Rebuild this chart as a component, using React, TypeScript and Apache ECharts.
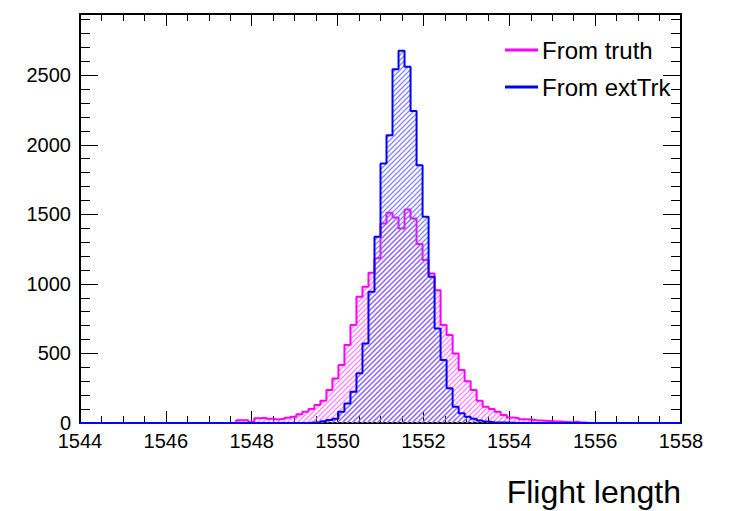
import React, { useEffect, useRef } from "react";
import * as echarts from "echarts";

const X_MIN = 1544;
const X_MAX = 1558;
const BIN_WIDTH = 0.14;

const truthCounts = [
  0, 0, 0, 0, 0, 0, 0, 0, 0, 0,
  0, 0, 0, 0, 0, 0, 0, 0, 0, 0,
  0, 0, 0, 0, 0, 0, 20, 20, 8, 35,
  38, 30, 25, 30, 38, 45, 62, 81, 100, 130,
  160, 237, 320, 417, 560, 704, 907, 979, 1080, 1185,
  1434, 1511, 1478, 1398, 1535, 1470, 1286, 1171, 1075, 955,
  704, 632, 500, 381, 300, 237, 160, 117, 100, 81,
  57, 40, 36, 27, 25, 20, 18, 15, 12, 10,
  8, 5, 10, 3, 0, 0, 0, 0, 0, 0,
  0, 0, 0, 0, 0, 0, 0, 0, 0, 0,
];

const extTrkCounts = [
  0, 0, 0, 0, 0, 0, 0, 0, 0, 0,
  0, 0, 0, 0, 0, 0, 0, 0, 0, 0,
  0, 0, 0, 0, 0, 0, 0, 0, 0, 0,
  0, 0, 0, 0, 0, 0, 0, 0, 3, 5,
  12, 22, 30, 81, 141, 225, 357, 572, 943, 1338,
  1866, 2069, 2543, 2675, 2560, 2243, 1853, 1482, 1051, 680,
  453, 249, 117, 70, 45, 30, 18, 10, 6, 4,
  3, 2, 0, 0, 0, 0, 0, 0, 0, 0,
  0, 0, 0, 0, 0, 0, 0, 0, 0, 0,
  0, 0, 0, 0, 0, 0, 0, 0, 0, 0,
];

const seriesNames = ["From truth", "From extTrk"];
const seriesColors = ["#ff00ff", "#0000ff"];
const hatchColors = ["#ff66ff", "#6666ff"];
const xTickValues = [1544, 1546, 1548, 1550, 1552, 1554, 1556, 1558];
const yTickValues = [0, 500, 1000, 1500, 2000, 2500];

function histPoints(counts: number[]) {
  const pts: number[][] = counts.map((v, i) => [X_MIN + BIN_WIDTH * i, v]);
  pts.push([X_MAX, counts[counts.length - 1]]);
  return pts;
}

function hatch(color: string) {
  const s = 5;
  const c = document.createElement("canvas");
  c.width = s;
  c.height = s;
  const ctx = c.getContext("2d")!;
  ctx.strokeStyle = color;
  ctx.lineWidth = 1.3;
  ctx.beginPath();
  ctx.moveTo(-1, s + 1);
  ctx.lineTo(s + 1, -1);
  ctx.moveTo(-1, 1);
  ctx.lineTo(1, -1);
  ctx.moveTo(s - 1, s + 1);
  ctx.lineTo(s + 1, s - 1);
  ctx.stroke();
  return c;
}

export default function App() {
  const ref = useRef<HTMLDivElement>(null);
  useEffect(() => {
    if (!ref.current) return;
    const chart = echarts.init(ref.current, null, { renderer: "svg" });
    const font = "Liberation Sans";
    const axisCommon = {
      axisLine: { show: true, onZero: false, lineStyle: { color: "#000", width: 2 } },
      splitLine: { show: false },
    };
    chart.setOption({
      animation: false,
      backgroundColor: "#fff",
      grid: { left: 80, right: 49, top: 14, bottom: 88 },
      legend: {
        orient: "vertical",
        left: 500,
        top: 33,
        itemWidth: 33,
        itemHeight: 3,
        itemGap: 13,
        icon: "rect",
        data: seriesNames,
        textStyle: { fontFamily: font, fontSize: 24, color: "#000", lineHeight: 24, padding: [0, 0, 0, -1] },
      },
      xAxis: [
        {
          type: "value",
          min: X_MIN,
          max: X_MAX,
          interval: 2,
          ...axisCommon,
          axisTick: { show: true, inside: true, length: 12, lineStyle: { color: "#000", width: 1 } },
          minorTick: { show: true, splitNumber: 4, length: 7, lineStyle: { color: "#000", width: 1 } },
          axisLabel: {
            margin: 8,
            fontFamily: font,
            fontSize: 20,
            color: "#000",
            formatter: (v: number) => (xTickValues.includes(v) ? String(v) : ""),
          },
        },
        {
          type: "value",
          position: "top",
          min: X_MIN,
          max: X_MAX,
          interval: 2,
          ...axisCommon,
          axisTick: { show: true, inside: true, length: 12, lineStyle: { color: "#000", width: 1 } },
          minorTick: { show: true, splitNumber: 4, length: 7, lineStyle: { color: "#000", width: 1 } },
          axisLabel: { show: false },
        },
      ],
      yAxis: [
        {
          type: "value",
          min: 0,
          max: 2940,
          interval: 500,
          ...axisCommon,
          axisTick: { show: true, inside: true, length: 18, lineStyle: { color: "#000", width: 1 } },
          minorTick: { show: true, splitNumber: 5, length: 10, lineStyle: { color: "#000", width: 1 } },
          axisLabel: {
            margin: 9,
            showMaxLabel: false,
            fontFamily: font,
            fontSize: 20,
            color: "#000",
            formatter: (v: number) => (yTickValues.includes(v) ? String(v) : ""),
          },
        },
        {
          type: "value",
          position: "right",
          min: 0,
          max: 2940,
          interval: 500,
          ...axisCommon,
          axisTick: { show: true, inside: true, length: 18, lineStyle: { color: "#000", width: 1 } },
          minorTick: { show: true, splitNumber: 5, length: 10, lineStyle: { color: "#000", width: 1 } },
          axisLabel: { show: false },
        },
      ],
      series: [
        {
          name: seriesNames[0],
          type: "line",
          step: "end",
          symbol: "none",
          data: histPoints(truthCounts),
          color: seriesColors[0],
          lineStyle: { color: seriesColors[0], width: 2 },
          areaStyle: { color: { image: hatch(hatchColors[0]), repeat: "repeat" }, opacity: 0.8 },
          z: 2,
        },
        {
          name: seriesNames[1],
          type: "line",
          step: "end",
          symbol: "none",
          data: histPoints(extTrkCounts),
          color: seriesColors[1],
          lineStyle: { color: seriesColors[1], width: 2 },
          areaStyle: { color: { image: hatch(hatchColors[1]), repeat: "repeat" }, opacity: 0.8 },
          z: 3,
        },
      ],
      graphic: [
        {
          type: "text",
          right: 49,
          top: 476,
          style: { text: "Flight length", font: `32px "${font}"`, fill: "#000" },
        },
      ],
    });
    return () => chart.dispose();
  }, []);
  return (
    <div
      ref={ref}
      style={{ position: "fixed", left: 0, top: 0, width: 730, height: 511 }}
    />
  );
}
